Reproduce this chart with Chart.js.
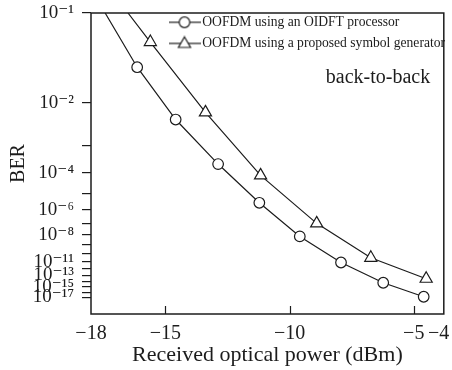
<!DOCTYPE html>
<html>
<head>
<meta charset="utf-8">
<script src="https://cdn.jsdelivr.net/npm/chart.js@4/dist/chart.umd.min.js"></script>
<style>
  html, body { margin: 0; padding: 0; background: #fff; }
  #wrap { width: 452px; height: 370px; position: relative; }
</style>
</head>
<body>
<div id="wrap"><canvas id="c" width="452" height="370"></canvas></div>
<script>
// ---------------- data ----------------
const seriesNames = ['OOFDM using an OIDFT processor', 'OOFDM using a proposed symbol generator'];
// received optical power (dBm); first entry is where the curve leaves the top of the frame
const powerOIDFT = [-17.43, -16.14, -14.59, -12.88, -11.22, -9.59, -7.93, -6.23, -4.60];
const berOIDFT   = [1e-1, 3.3e-2, 4.6e-3, 2.3e-4, 2.9e-6, 7.1e-9, 7.6e-12, 5.8e-15, 1.2e-17];
const powerSymGen = [-16.51, -15.61, -13.39, -11.17, -8.91, -6.73, -4.50];
const berSymGen   = [1e-1, 6.0e-2, 6.5e-3, 7.9e-5, 1.0e-7, 3.1e-11, 2.8e-14];
const xTickValues = [-18, -15, -10, -5, -4];
const yTickExponents = [-1,-2,-3,-4,-5,-6,-7,-8,-9,-10,-11,-12,-13,-14,-15,-16,-17];
const yLabelExponents = [-1, -2, -4, -6, -8, -11, -13, -15, -17];
const annotationText = 'back-to-back';

// ---------------- BER (Q-factor) scale ----------------
function normInvLow(p) {
  const a = [-3.969683028665376e+01, 2.209460984245205e+02, -2.759285104469687e+02, 1.383577518672690e+02, -3.066479806614716e+01, 2.506628277459239e+00];
  const b = [-5.447609879822406e+01, 1.615858368580409e+02, -1.556989798598866e+02, 6.680131188771972e+01, -1.328068155288572e+01];
  const c = [-7.784894002430293e-03, -3.223964580411365e-01, -2.400758277161838e+00, -2.549732539343734e+00, 4.374664141464968e+00, 2.938163982698783e+00];
  const d = [7.784695709041462e-03, 3.224671290700398e-01, 2.445134137142996e+00, 3.754408661907416e+00];
  const plow = 0.02425;
  if (p < plow) {
    const q = Math.sqrt(-2 * Math.log(p));
    return (((((c[0]*q+c[1])*q+c[2])*q+c[3])*q+c[4])*q+c[5]) / ((((d[0]*q+d[1])*q+d[2])*q+d[3])*q+1);
  }
  const q = p - 0.5, r = q*q;
  return (((((a[0]*r+a[1])*r+a[2])*r+a[3])*r+a[4])*r+a[5])*q / (((((b[0]*r+b[1])*r+b[2])*r+b[3])*r+b[4])*r+1);
}
function qFactor(ber) { return -normInvLow(ber); }
function tf(ber) { return -Math.log10(qFactor(ber)); }

class BerScale extends Chart.Scale {
  determineDataLimits() {
    this.min = this.options.min;
    this.max = this.options.max;
  }
  buildTicks() {
    return yTickExponents.map(e => ({ value: Math.pow(10, e) }));
  }
  configure() {
    super.configure();
    this._s = tf(this.min);
    this._r = tf(this.max) - this._s;
  }
  getPixelForValue(v) {
    return this.getPixelForDecimal((tf(v) - this._s) / this._r);
  }
  getValueForPixel(p) { return null; }
  getLabelForValue(v) { return v.toExponential(1); }
}
BerScale.id = 'ber';
BerScale.defaults = {};
Chart.register(BerScale);

const SUP = {'0':'⁰','1':'¹','2':'²','3':'³','4':'⁴','5':'⁵','6':'⁶','7':'⁷','8':'⁸','9':'⁹','-':'⁻'};
function sup(n) { return String(n).split('').map(ch => SUP[ch]).join(''); }

const SERIF = "'Liberation Serif', 'DejaVu Serif', serif";
const INK = '#1c1c1c';

function legendIcon(style) {
  const cv = document.createElement('canvas');
  cv.width = 32; cv.height = 16;
  const g = cv.getContext('2d');
  g.strokeStyle = INK; g.lineWidth = 1.2;
  g.beginPath(); g.moveTo(0, 8); g.lineTo(32, 8); g.stroke();
  g.fillStyle = '#fff';
  g.beginPath();
  if (style === 'circle') {
    g.arc(16, 8, 5.3, 0, Math.PI * 2);
  } else {
    const r = 7;
    g.moveTo(16, 8.5 - r);
    g.lineTo(16 + r * Math.sin(2*Math.PI/3), 8.5 + r/2);
    g.lineTo(16 - r * Math.sin(2*Math.PI/3), 8.5 + r/2);
    g.closePath();
  }
  g.fill(); g.stroke();
  return cv;
}
const icons = [legendIcon('circle'), legendIcon('triangle')];

const framePlugin = {
  id: 'frame',
  beforeDraw(chart) {
    const lg = chart.legend;
    if (lg) { lg.left = 166; lg.top = 8; lg.right = 452; lg.bottom = 70; }
  },
  afterDatasetsDraw(chart) {
    const {ctx, chartArea: a, scales} = chart;
    ctx.save();
    ctx.strokeStyle = INK;
    ctx.lineWidth = 1.2;
    const xs = scales.x;
    xTickValues.forEach(v => {
      if (v === -18 || v === -4) return;
      const px = Math.round(xs.getPixelForValue(v)) + 0.5;
      ctx.beginPath(); ctx.moveTo(px, a.bottom); ctx.lineTo(px, a.bottom - 8); ctx.stroke();
    });
    ctx.lineWidth = 1.5;
    ctx.strokeRect(a.left, a.top, a.right - a.left, a.bottom - a.top);
    ctx.fillStyle = INK;
    ctx.font = '20px ' + SERIF;
    ctx.textAlign = 'center';
    ctx.textBaseline = 'middle';
    ctx.fillText(annotationText, a.left + 287, a.top + 65);
    ctx.restore();
  }
};

const mk = (xs, ys) => xs.map((x, i) => ({ x: x, y: ys[i] }));

new Chart(document.getElementById('c'), {
  type: 'line',
  data: {
    datasets: [
      {
        label: seriesNames[0],
        data: mk(powerOIDFT, berOIDFT),
        borderColor: INK, borderWidth: 1.2,
        pointStyle: 'circle',
        pointRadius: powerOIDFT.map((_, i) => i === 0 ? 0 : 5.3),
        pointBackgroundColor: '#fff', pointBorderColor: INK, pointBorderWidth: 1.2,
        tension: 0, fill: false
      },
      {
        label: seriesNames[1],
        data: mk(powerSymGen, berSymGen),
        borderColor: INK, borderWidth: 1.2,
        pointStyle: 'triangle',
        pointRadius: powerSymGen.map((_, i) => i === 0 ? 0 : 7),
        pointBackgroundColor: '#fff', pointBorderColor: INK, pointBorderWidth: 1.2,
        tension: 0, fill: false
      }
    ]
  },
  options: {
    responsive: false,
    animation: false,
    devicePixelRatio: 1,
    layout: { padding: { top: 13, right: 5, left: 0, bottom: 0 } },
    plugins: {
      tooltip: { enabled: false },
      legend: {
        position: 'chartArea',
        align: 'start',
        labels: {
          usePointStyle: true,
          pointStyleWidth: 22,
          padding: 7.5,
          color: INK,
          font: { family: SERIF, size: 13.6 },
          generateLabels: (chart) => chart.data.datasets.map((ds, i) => ({
            text: ds.label, pointStyle: icons[i], datasetIndex: i, hidden: false,
            fontColor: INK, lineWidth: 0, strokeStyle: 'rgba(0,0,0,0)', fillStyle: 'rgba(0,0,0,0)'
          }))
        }
      }
    },
    scales: {
      x: {
        type: 'linear',
        min: -18, max: -3.79,
        afterBuildTicks: (s) => { s.ticks = xTickValues.map(v => ({ value: v })); },
        afterFit: (s) => { s.height = 56; s.paddingLeft = 0; s.paddingRight = 0; },
        grid: { display: false, drawTicks: false },
        border: { display: false },
        ticks: {
          autoSkip: false, maxRotation: 0, padding: 8, color: INK,
          font: { family: SERIF, size: 20 },
          callback: (v) => (v < 0 ? '\u2212' : '') + Math.abs(v)
        },
        title: {
          display: true, text: 'Received optical power (dBm)', color: INK,
          font: { family: SERIF, size: 22 }, padding: { top: 3, bottom: 2 }
        }
      },
      y: {
        type: 'ber',
        min: 1e-21, max: 1e-1,
        afterFit: (s) => { s.width = 91; s.paddingTop = 0; s.paddingBottom = 0; },
        grid: { drawOnChartArea: false, drawTicks: true, tickLength: 9, color: INK, lineWidth: 1.2 },
        border: { display: false },
        ticks: {
          autoSkip: false, padding: 8, color: INK,
          font: { family: SERIF, size: 19 },
          callback: (v) => {
            const e = Math.round(Math.log10(v));
            return yLabelExponents.includes(e) ? '10' + sup(e) : '';
          }
        },
        title: {
          display: true, text: 'BER', color: INK,
          font: { family: SERIF, size: 20 }, padding: { top: 7, bottom: 4 }
        }
      }
    }
  },
  plugins: [framePlugin]
});
</script>
</body>
</html>
